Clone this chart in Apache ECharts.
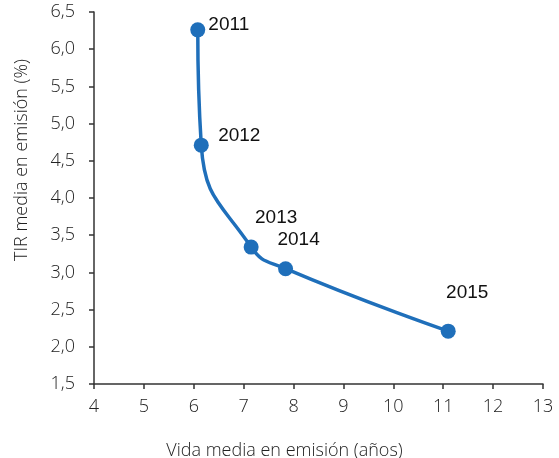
<!DOCTYPE html>
<html style="height: 100%">
<head>
    <meta charset="utf-8">
</head>
<body style="height: 100%; margin: 0">
    <div id="container" style="width: 559px; height: 458px"></div>
    <script type="text/javascript" src="https://cdn.jsdelivr.net/npm/echarts@6/dist/echarts.min.js"></script>
<script type="text/javascript">
    var years = ['2011', '2012', '2013', '2014', '2015'];
    var vidaMedia = [6.08, 6.15, 7.15, 7.84, 11.1];
    var tirMedia = [6.26, 4.71, 3.34, 3.05, 2.21];
    // label offsets for each year (px)
    var labelOffsets = [[31, -5], [38, -9], [25, -29], [13, -29], [19, -38]];

    var dom = document.getElementById("container");
    var myChart = echarts.init(dom);

    var data = [];
    for (var i = 0; i < years.length; i++) {
        data.push({
            value: [vidaMedia[i], tirMedia[i]],
            name: years[i],
            label: {offset: labelOffsets[i]}
        });
    }

    var axisFont = {fontFamily: 'Open Sans', fontWeight: 300, fontSize: 18, color: '#222'};

    myChart.setOption({
        animation: false,
        grid: {left: 94, right: 16, top: 12, bottom: 74, outerBoundsMode: 'none'},
        xAxis: {
            type: 'value',
            min: 4, max: 13, interval: 1,
            name: 'Vida media en emisión (años)',
            nameLocation: 'middle',
            nameGap: 58,
            nameTextStyle: Object.assign({padding: [0, 68, 0, 0]}, axisFont),
            axisLine: {show: true, lineStyle: {color: '#333', width: 1.5}},
            axisTick: {show: true, length: 5, lineStyle: {color: '#333', width: 1.5}},
            axisLabel: Object.assign({margin: 14}, axisFont),
            splitLine: {show: false}
        },
        yAxis: {
            type: 'value',
            min: 1.5, max: 6.5, interval: 0.5,
            name: 'TIR media en emisión (%)',
            nameLocation: 'middle',
            nameGap: 63,
            nameTextStyle: Object.assign({padding: [0, 0, 0, 76]}, axisFont),
            axisLine: {show: true, lineStyle: {color: '#333', width: 1.5}},
            axisTick: {show: true, length: 5, lineStyle: {color: '#333', width: 1.5}},
            axisLabel: Object.assign({
                margin: 19,
                formatter: function (v) { return v.toFixed(1).replace('.', ','); }
            }, axisFont),
            splitLine: {show: false}
        },
        series: [{
            type: 'line',
            data: data,
            smooth: 0.5,
            symbol: 'circle',
            symbolSize: 15,
            lineStyle: {color: '#1f6fba', width: 3.5},
            itemStyle: {color: '#1f6fba'},
            label: {
                show: true,
                position: 'inside',
                formatter: '{b}',
                fontFamily: 'Liberation Sans',
                fontSize: 19,
                color: '#111'
            }
        }]
    });
</script>
</body>
</html>
